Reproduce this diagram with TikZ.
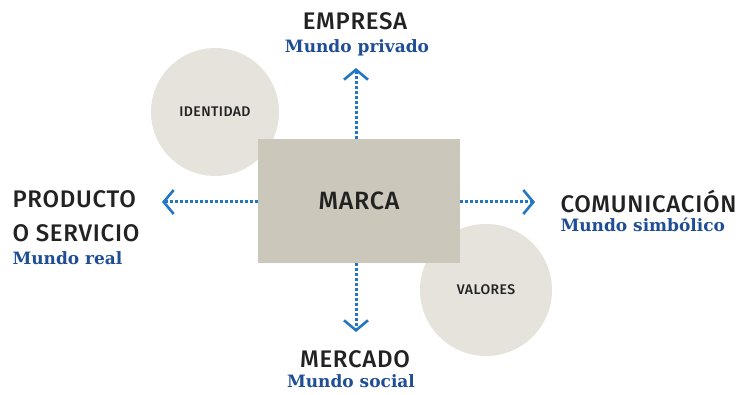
\documentclass[tikz,border=0pt]{standalone}
\usepackage{fontspec}
\setmainfont{Fira Sans Medium}[LetterSpace=3]
\newfontfamily\mondofont{DejaVu Serif}
\usetikzlibrary{arrows.meta}
\definecolor{grigio}{HTML}{CBC7BB}
\definecolor{grigiochiaro}{HTML}{E6E3DC}
\definecolor{scuro}{HTML}{222222}
\definecolor{blu}{HTML}{1F4E96}
\definecolor{azzurro}{HTML}{2376C4}

\begin{document}
\begin{tikzpicture}[x=1pt,y=-1pt,
  titolo/.style={anchor=base,text=scuro,font=\fontsize{24}{24}\selectfont},
  mondo/.style={anchor=base,text=blu,font=\mondofont\bfseries\fontsize{17}{17}\selectfont},
  cerchio/.style={circle,fill=grigiochiaro,inner sep=0pt,text=scuro,font=\fontsize{14}{14}\selectfont},
  freccia/.style={draw=azzurro,line width=3pt,dash pattern=on 2.6pt off 2.4pt,
    -{Straight Barb[length=10pt,width=24pt,line width=2.6pt]}}]
\useasboundingbox (0,0) rectangle (740,395);
 % cerchi
  \node (identidad) at (215,112) [cerchio,minimum size=128pt] {IDENTIDAD};
  \node (valores) at (486,290) [cerchio,minimum size=132pt] {VALORES};
 % centro
  \node (marca) at (359,201) [fill=grigio,minimum width=202pt,minimum height=124pt,
    text=scuro,font=\fontsize{25}{25}\selectfont] {MARCA};
 % testi
  \node (empresa) at (355,30) [titolo] {EMPRESA};
  \node (privado) at (357,53) [mondo] {Mundo privado};
  \node (producto) at (9,208) [titolo,anchor=base west] {PRODUCTO};
  \node (servicio) at (9,242) [titolo,anchor=base west] {O SERVICIO};
  \node (real) at (9,265) [mondo,anchor=base west] {Mundo real};
  \node (comunicacion) at (557,213) [titolo,anchor=base west] {COMUNICACIÓN};
  \node (simbolico) at (557,232) [mondo,anchor=base west] {Mundo simbólico};
  \node (mercado) at (355,368) [titolo] {MERCADO};
  \node (social) at (351,388) [mondo] {Mundo social};
 % frecce
  \coordinate (su) at (356,68);
  \coordinate (giu) at (356,332);
  \coordinate (sx) at (162,202);
  \coordinate (dx) at (535,202);
  \draw[freccia] (su |- marca.north) -- (su);
  \draw[freccia] (giu |- marca.south) -- (giu);
  \draw[freccia] (sx -| marca.west) -- (sx);
  \draw[freccia] (dx -| marca.east) -- (dx);
\end{tikzpicture}
\end{document}
